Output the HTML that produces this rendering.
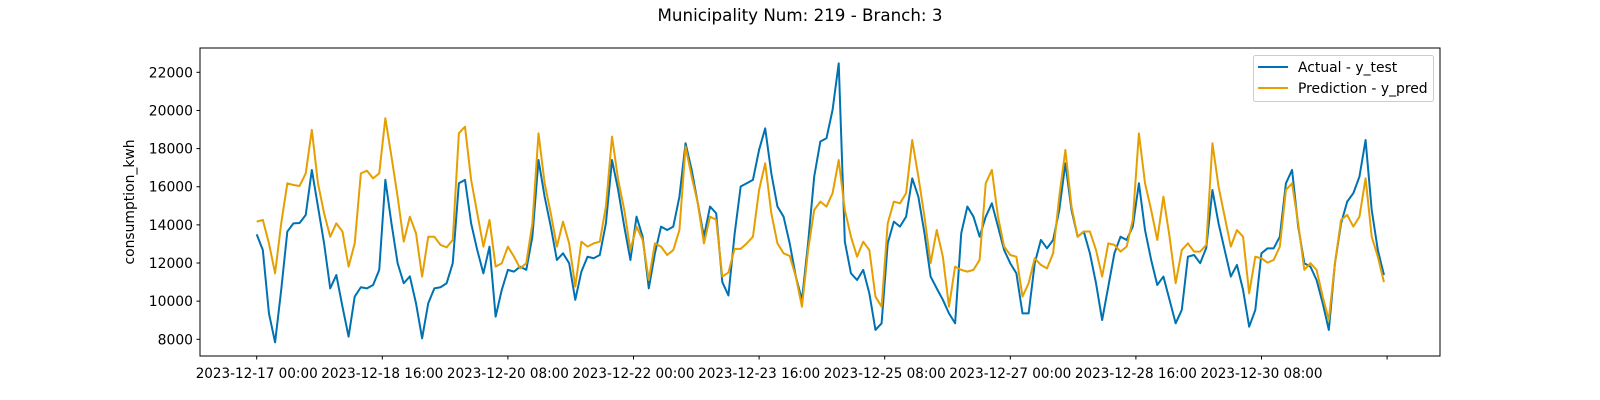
<!DOCTYPE html>
<html><head><meta charset="utf-8"><style>
body{margin:0;background:#fff;}
svg{display:block;font-family:"DejaVu Sans","Liberation Sans",sans-serif;}
</style></head><body>
<svg id="chart" width="1600" height="400" viewBox="0 0 1600 400">
<rect width="1600" height="400" fill="#fff"/>
<text x="800" y="21" font-size="16.7" text-anchor="middle" fill="#000">Municipality Num: 219 - Branch: 3</text>
<text transform="translate(134,202) rotate(-90)" font-size="13.9" text-anchor="middle" fill="#000">consumption_kwh</text>
<g id="yticks"></g>
<g id="xticks"></g>
<g id="series"></g>
<rect x="200" y="48" width="1240" height="308" fill="none" stroke="#000" stroke-width="1"/>
<g>
<rect x="1253.5" y="55.5" width="180" height="46" rx="2" fill="#fff" fill-opacity="0.8" stroke="#ccc"/>
<line x1="1258" y1="67" x2="1288" y2="67" stroke="#0072B2" stroke-width="2"/>
<text x="1298" y="72" font-size="13.9">Actual - y_test</text>
<line x1="1258" y1="88" x2="1288" y2="88" stroke="#E69F00" stroke-width="2"/>
<text x="1298" y="93" font-size="13.9">Prediction - y_pred</text>
</g>
</svg>
<script>
const actual=[13500,12680,9360,7840,10590,13650,14080,14100,14520,16880,14960,13030,10670,11370,9710,8140,10240,10730,10670,10850,11640,16360,14080,11990,10940,11300,9890,8050,9890,10670,10730,10940,11990,16180,16360,14080,12680,11460,12860,9190,10590,11640,11550,11810,11640,13380,17400,15480,13910,12160,12510,11990,10070,11550,12330,12250,12420,14080,17400,15830,13910,12160,14430,13380,10670,12510,13910,13730,13910,15480,18280,16880,15130,13380,14960,14610,11000,10300,13500,16010,16180,16360,17930,19060,16700,14960,14430,13030,11290,10070,13030,16530,18370,18540,20030,22470,13120,11460,11110,11640,10410,8490,8840,13030,14170,13910,14430,16440,15480,13560,11290,10670,10070,9360,8840,13560,14960,14430,13380,14430,15130,13910,12680,11990,11460,9360,9360,11990,13210,12770,13210,14780,17230,14780,13380,13650,12510,10940,9010,10760,12510,13380,13210,13910,16180,13730,12160,10850,11290,10070,8840,9540,12330,12420,11990,12800,15830,14080,12680,11290,11900,10590,8660,9540,12510,12770,12770,13380,16180,16880,13910,11990,11810,11110,9890,8490,11990,14080,15220,15660,16530,18450,14780,12680,11370];
const prediction=[14170,14260,13030,11460,14080,16180,16090,16040,16700,18980,16180,14610,13380,14080,13650,11810,13030,16700,16840,16440,16700,19590,17580,15480,13120,14430,13560,11290,13380,13380,12950,12820,13210,18800,19150,16360,14610,12860,14260,11810,11990,12860,12330,11720,11990,14080,18800,16180,14610,12860,14170,13030,10760,13120,12860,13030,13120,14960,18630,16360,14780,12680,13910,13210,11110,13030,12860,12420,12680,13730,18100,16530,15130,13030,14430,14260,11290,11500,12740,12740,13030,13380,15830,17230,14610,13030,12510,12370,11290,9710,12680,14780,15220,14960,15660,17400,14780,13380,12330,13120,12680,10240,9710,14080,15220,15130,15660,18450,16530,14430,11990,13730,12330,9710,11810,11640,11550,11640,12160,16180,16880,14430,12860,12420,12330,10240,10940,12250,11900,11720,12510,15480,17930,14960,13380,13650,13650,12680,11290,13030,12950,12600,12860,14260,18800,16180,14780,13210,15480,13380,10940,12680,13030,12600,12600,12950,18280,16010,14430,12860,13730,13380,10410,12330,12250,12020,12160,12860,15830,16180,14080,11640,11990,11640,10240,9010,11990,14260,14520,13910,14430,16440,13380,12330,11000];
const yTicks=[8000,10000,12000,14000,16000,18000,20000,22000];
const xTickLabels=["2023-12-17 00:00","2023-12-18 16:00","2023-12-20 08:00","2023-12-22 00:00","2023-12-23 16:00","2023-12-25 08:00","2023-12-27 00:00","2023-12-28 16:00","2023-12-30 08:00",""];
const xTickHours=[0,40,80,120,160,200,240,280,320,360];
const spanHours=359;

const NS="http://www.w3.org/2000/svg";
function yScale(v){return 339.3-(v-8000)*0.019071;}
function xScale(h){return 256.7+h*3.14;}
function mk(tag,attrs,parent){const e=document.createElementNS(NS,tag);for(const k in attrs)e.setAttribute(k,attrs[k]);parent.appendChild(e);return e;}

const yg=document.getElementById('yticks');
yTicks.forEach(v=>{
  const y=yScale(v);
  const t=mk('line',{x1:196.5,x2:200,y1:y,y2:y,stroke:'#000'},yg);
  
  
  const l=mk('text',{x:193,y:y+5,'font-size':13.9,'text-anchor':'end',fill:'#000'},yg);
  
  
  l.textContent=v;
});
const xg=document.getElementById('xticks');
xTickHours.forEach((h,i)=>{
  const x=xScale(h);
  const t=mk('line',{x1:x,x2:x,y1:356,y2:359.5,stroke:'#000'},xg);
  
  
  const l=mk('text',{x:x-61,y:378,'font-size':13.9,fill:'#000'},xg);
  if(xTickLabels[i]){l.setAttribute('textLength','122');l.setAttribute('lengthAdjust','spacingAndGlyphs');}
  
  
  l.textContent=xTickLabels[i];
});
const sg=document.getElementById('series');
function drawLine(vals,color,name){
  const n=vals.length;
  const pts=vals.map((v,i)=>xScale(i*spanHours/(n-1)).toFixed(2)+','+yScale(v).toFixed(2)).join(' ');
  const p=mk('polyline',{points:pts,fill:'none',stroke:color,'stroke-width':2,'stroke-linejoin':'round'},sg);
  
  
}
drawLine(actual,'#0072B2','actual-line');
drawLine(prediction,'#E69F00','prediction-line');
</script>
</body></html>
